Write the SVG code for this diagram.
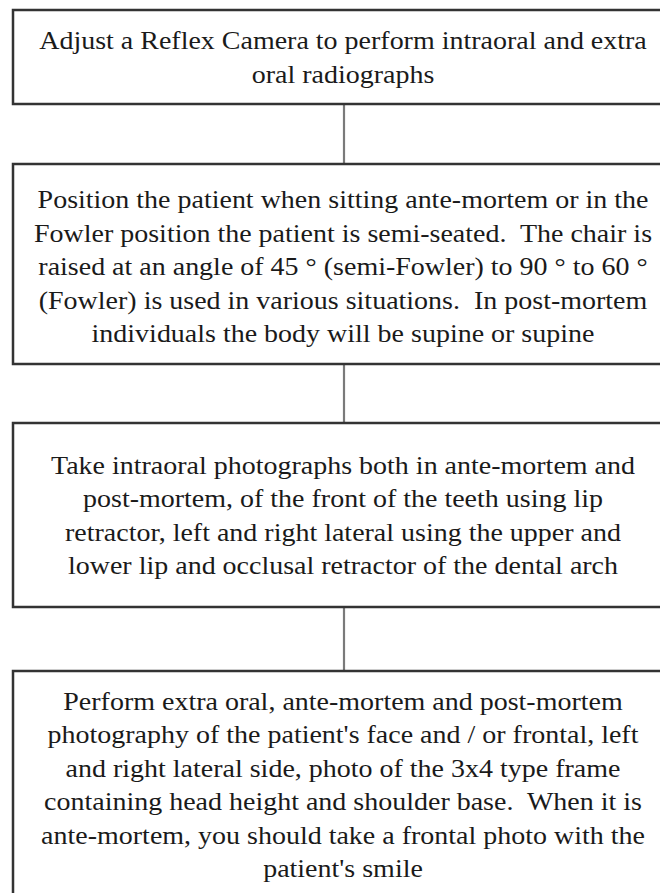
<svg xmlns="http://www.w3.org/2000/svg" width="660" height="893" viewBox="0 0 660 893">
<style>
  .box { fill: #ffffff; stroke: #333333; stroke-width: 2.5; }
  .conn { stroke: #7a7a7a; stroke-width: 2.2; fill: none; }
  .t { font-family: "Liberation Serif", "Times New Roman", serif; font-size: 26px; fill: #1a1a1a; text-anchor: middle; white-space: pre; }
</style>
<rect x="0" y="0" width="660" height="893" fill="#ffffff"/>
<g id="connectors">
  <line class="conn" x1="344" y1="104" x2="344" y2="164"/>
  <line class="conn" x1="344" y1="364" x2="344" y2="423"/>
  <line class="conn" x1="344" y1="607" x2="344" y2="671"/>
</g>
<g id="node1">
  <rect class="box" x="13" y="10" width="670" height="94"/>
  <g transform="translate(343,0) scale(1.077,1)">
    <text class="t" x="0" y="49">Adjust a Reflex Camera to perform intraoral and extra</text>
    <text class="t" x="0" y="83">oral radiographs</text>
  </g>
</g>
<g id="node2">
  <rect class="box" x="13" y="164" width="670" height="200"/>
  <g transform="translate(343,0) scale(1.077,1)">
    <text class="t" x="0" y="208">Position the patient when sitting ante-mortem or in the</text>
    <text class="t" x="0" y="242">Fowler position the patient is semi-seated.  The chair is</text>
    <text class="t" x="0" y="275">raised at an angle of 45 ° (semi-Fowler) to 90 ° to 60 °</text>
    <text class="t" x="0" y="309">(Fowler) is used in various situations.  In post-mortem</text>
    <text class="t" x="0" y="342">individuals the body will be supine or supine</text>
  </g>
</g>
<g id="node3">
  <rect class="box" x="13" y="423" width="670" height="184"/>
  <g transform="translate(343,0) scale(1.077,1)">
    <text class="t" x="0" y="474">Take intraoral photographs both in ante-mortem and</text>
    <text class="t" x="0" y="507.5">post-mortem, of the front of the teeth using lip</text>
    <text class="t" x="0" y="541">retractor, left and right lateral using the upper and</text>
    <text class="t" x="0" y="574.5">lower lip and occlusal retractor of the dental arch</text>
  </g>
</g>
<g id="node4">
  <rect class="box" x="13" y="671" width="670" height="240"/>
  <g transform="translate(343,0) scale(1.077,1)">
    <text class="t" x="0" y="710">Perform extra oral, ante-mortem and post-mortem</text>
    <text class="t" x="0" y="743.5">photography of the patient's face and / or frontal, left</text>
    <text class="t" x="0" y="777">and right lateral side, photo of the 3x4 type frame</text>
    <text class="t" x="0" y="810.5">containing head height and shoulder base.  When it is</text>
    <text class="t" x="0" y="844">ante-mortem, you should take a frontal photo with the</text>
    <text class="t" x="0" y="877.5">patient's smile</text>
  </g>
</g>
</svg>
